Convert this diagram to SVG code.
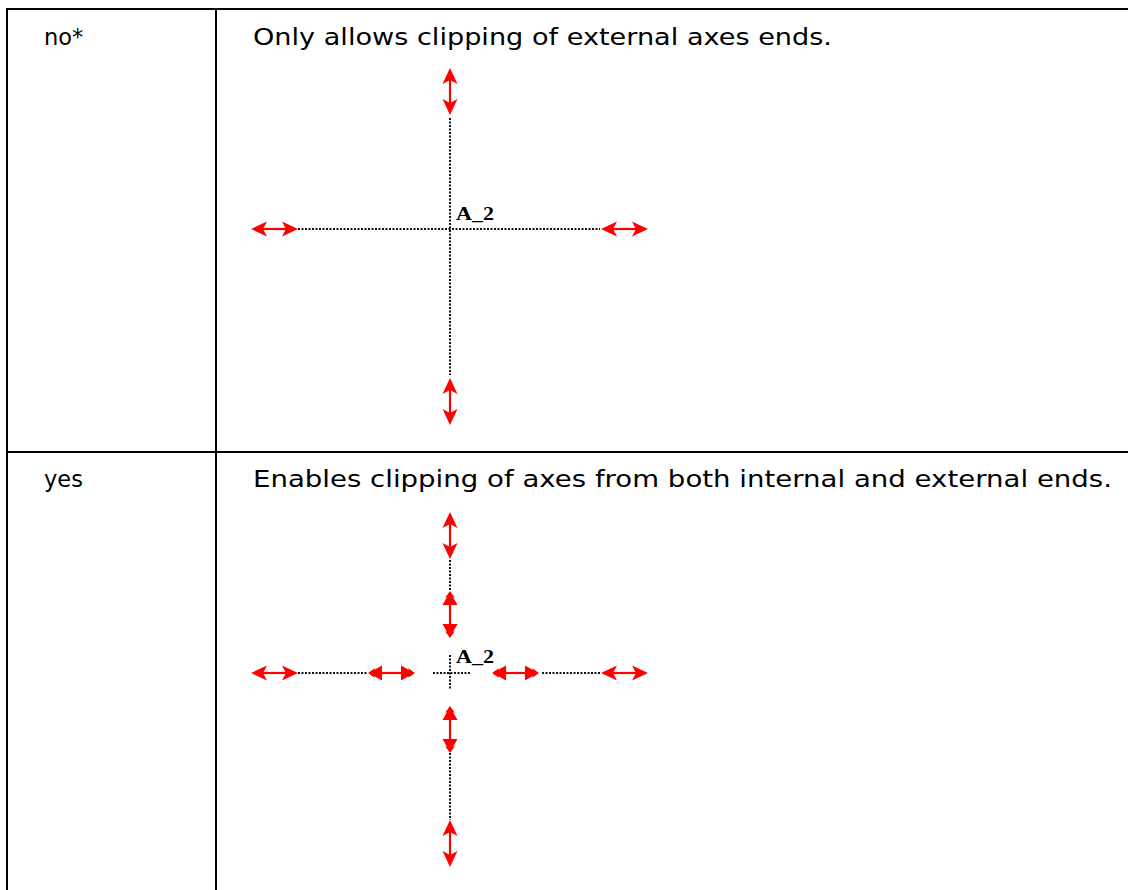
<svg xmlns="http://www.w3.org/2000/svg" xmlns:xlink="http://www.w3.org/1999/xlink" width="1128" height="890" viewBox="0 0 1128 890">
<style>
.grid{stroke:#000;stroke-width:2;fill:none}
.txt{font-family:"DejaVu Sans",Verdana,sans-serif;font-size:22.5px;fill:#000}
.lbl{font-family:"Liberation Serif","Times New Roman",serif;font-size:19px;font-weight:bold;fill:#000}
.dot{stroke:#111;stroke-width:2;stroke-dasharray:2 1.5;fill:none}
.red{fill:#ff0000}
.redl{stroke:#ff0000;stroke-width:2.2;fill:none}
</style>
<defs>
<g id="outer">
<path class="red" d="M0,0 L16,-7.5 L12,0 L16,7.5 Z"/>
<path class="red" d="M47,0 L31,-7.5 L35,0 L31,7.5 Z"/>
<line class="redl" x1="10" y1="0" x2="37" y2="0"/>
</g>
<g id="inner">
<polygon class="red" points="0,0 7,-5 6,-3 14,-7.5 14,7.5 6,3 7,5"/>
<polygon class="red" points="47,0 40,-5 41,-3 33,-7.5 33,7.5 41,3 40,5"/>
<line class="redl" x1="12" y1="0" x2="35" y2="0"/>
</g>
</defs>
<g id="table">
<line class="grid" x1="7" y1="9" x2="1128" y2="9"/>
<line class="grid" x1="7" y1="452" x2="1128" y2="452"/>
<line class="grid" x1="7" y1="8" x2="7" y2="890"/>
<line class="grid" x1="216" y1="8" x2="216" y2="890"/>
</g>
<g id="row1-text">
<text class="txt" x="44" y="45">no*</text>
<text class="txt" x="253" y="45" textLength="579" lengthAdjust="spacingAndGlyphs">Only allows clipping of external axes ends.</text>
</g>
<g id="row2-text">
<text class="txt" x="44" y="487">yes</text>
<text class="txt" x="253" y="487" textLength="859" lengthAdjust="spacingAndGlyphs">Enables clipping of axes from both internal and external ends.</text>
</g>
<g id="diagram-no">
<g id="connectors-no">
<line class="dot" x1="450" y1="118" x2="450" y2="375"/>
<line class="dot" x1="298" y1="229" x2="600" y2="229"/>
</g>
<use xlink:href="#outer" transform="translate(251,229)"/>
<use xlink:href="#outer" transform="translate(601,229)"/>
<use xlink:href="#outer" transform="translate(450,68) rotate(90)"/>
<use xlink:href="#outer" transform="translate(450,378) rotate(90)"/>
<text class="lbl" x="456" y="220" textLength="38" lengthAdjust="spacingAndGlyphs">A_2</text>
</g>
<g id="diagram-yes">
<g id="connectors-yes">
<line class="dot" x1="450" y1="560" x2="450" y2="590"/>
<line class="dot" x1="450" y1="753" x2="450" y2="820"/>
<line class="dot" x1="298" y1="673" x2="368" y2="673"/>
<line class="dot" x1="542" y1="673" x2="600" y2="673"/>
<line class="dot" x1="450" y1="655" x2="450" y2="689"/>
<line class="dot" x1="433" y1="673" x2="470" y2="673"/>
</g>
<use xlink:href="#outer" transform="translate(251,673)"/>
<use xlink:href="#outer" transform="translate(601,673)"/>
<use xlink:href="#outer" transform="translate(450,512) rotate(90)"/>
<use xlink:href="#outer" transform="translate(450,820) rotate(90)"/>
<use xlink:href="#inner" transform="translate(368,673)"/>
<use xlink:href="#inner" transform="translate(492,673)"/>
<use xlink:href="#inner" transform="translate(450,591) rotate(90)"/>
<use xlink:href="#inner" transform="translate(450,706) rotate(90)"/>
<text class="lbl" x="456" y="663" textLength="38" lengthAdjust="spacingAndGlyphs">A_2</text>
</g>
</svg>
